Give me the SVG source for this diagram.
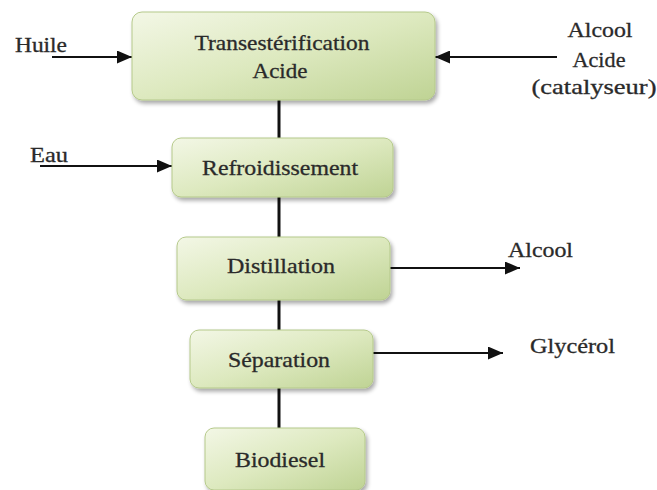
<svg xmlns="http://www.w3.org/2000/svg" width="657" height="490" viewBox="0 0 657 490">
<defs>
<linearGradient id="g" x1="0" y1="0" x2="1" y2="1">
<stop offset="0" stop-color="#f3f7e6"/>
<stop offset="0.5" stop-color="#dde9bf"/>
<stop offset="1" stop-color="#bfd394"/>
</linearGradient>
<filter id="sh" x="-10%" y="-10%" width="125%" height="130%">
<feGaussianBlur in="SourceAlpha" stdDeviation="2"/>
<feOffset dx="2" dy="3"/>
<feComponentTransfer><feFuncA type="linear" slope="0.35"/></feComponentTransfer>
<feMerge><feMergeNode/><feMergeNode in="SourceGraphic"/></feMerge>
</filter>
<marker id="ah" viewBox="0 0 15 13" refX="15" refY="6.5" markerWidth="15" markerHeight="13" markerUnits="userSpaceOnUse" orient="auto">
<path d="M0,0 L15,6.5 L0,13 z" fill="#111"/>
</marker>
</defs>
<style>
.box{fill:url(#g);stroke:#b5c98a;stroke-width:1;filter:url(#sh)}
.t{font-family:"Liberation Serif","Times New Roman",serif;font-size:21px;fill:#2a2a2a;stroke:#2a2a2a;stroke-width:0.3}
.c{text-anchor:middle}
.ln{stroke:#111;stroke-width:2;fill:none}
.v{stroke:#111;stroke-width:3;fill:none}
</style>
<rect width="657" height="490" fill="#fff"/>
<g id="connectors">
<line class="v" x1="279" y1="100" x2="279" y2="138"/>
<line class="v" x1="279" y1="197" x2="279" y2="237"/>
<line class="v" x1="279" y1="300" x2="279" y2="330"/>
<line class="v" x1="279" y1="388" x2="279" y2="428"/>
<line class="ln" x1="52" y1="57" x2="132" y2="57" marker-end="url(#ah)"/>
<line class="ln" x1="40" y1="166" x2="172" y2="166" marker-end="url(#ah)"/>
<line class="ln" x1="557" y1="57" x2="435" y2="57" marker-end="url(#ah)"/>
<line class="ln" x1="390" y1="268" x2="520" y2="268" marker-end="url(#ah)"/>
<line class="ln" x1="373" y1="353" x2="503" y2="353" marker-end="url(#ah)"/>
</g>
<g id="n-trans">
<rect class="box" x="132" y="12" width="303" height="88" rx="10"/>
<text class="t c" x="282" y="50" textLength="175" lengthAdjust="spacingAndGlyphs">Transestérification</text>
<text class="t c" x="280" y="78" textLength="55" lengthAdjust="spacingAndGlyphs">Acide</text>
</g>
<g id="n-refr">
<rect class="box" x="172" y="138" width="221" height="59" rx="9"/>
<text class="t c" x="280" y="175" textLength="156" lengthAdjust="spacingAndGlyphs">Refroidissement</text>
</g>
<g id="n-dist">
<rect class="box" x="177" y="237" width="213" height="63" rx="9"/>
<text class="t c" x="281" y="273" textLength="108" lengthAdjust="spacingAndGlyphs">Distillation</text>
</g>
<g id="n-sep">
<rect class="box" x="190" y="330" width="183" height="58" rx="9"/>
<text class="t c" x="279" y="367" textLength="102" lengthAdjust="spacingAndGlyphs">Séparation</text>
</g>
<g id="n-bio">
<rect class="box" x="205" y="428" width="160" height="62" rx="9"/>
<text class="t c" x="280" y="467" textLength="90" lengthAdjust="spacingAndGlyphs">Biodiesel</text>
</g>
<g id="labels">
<text class="t" x="15" y="52" textLength="52" lengthAdjust="spacingAndGlyphs">Huile</text>
<text class="t" x="30" y="162" textLength="38" lengthAdjust="spacingAndGlyphs">Eau</text>
<text class="t c" x="600" y="37" textLength="65" lengthAdjust="spacingAndGlyphs">Alcool</text>
<text class="t c" x="599" y="67" textLength="53" lengthAdjust="spacingAndGlyphs">Acide</text>
<text class="t c" x="594" y="94" textLength="125" lengthAdjust="spacingAndGlyphs">(catalyseur)</text>
<text class="t" x="508" y="257" textLength="65" lengthAdjust="spacingAndGlyphs">Alcool</text>
<text class="t" x="530" y="353" textLength="85" lengthAdjust="spacingAndGlyphs">Glycérol</text>
</g>
</svg>
